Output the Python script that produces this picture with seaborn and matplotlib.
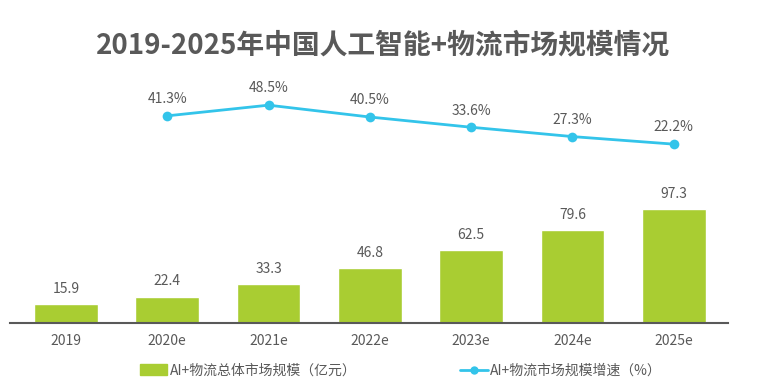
import pandas as pd
import numpy as np
import seaborn as sns
import matplotlib.pyplot as plt
from matplotlib.patches import Patch
from matplotlib.lines import Line2D

sns.set_theme(style="white")
plt.rcParams['font.family'] = ['Noto Sans CJK SC', 'DejaVu Sans']

# datos
years = ["2019", "2020e", "2021e", "2022e", "2023e", "2024e", "2025e"]
market_size = [15.9, 22.4, 33.3, 46.8, 62.5, 79.6, 97.3]
growth = [np.nan, 41.3, 48.5, 40.5, 33.6, 27.3, 22.2]

bar_name = "AI+物流总体市场规模（亿元）"
line_name = "AI+物流市场规模增速（%）"
title = "2019-2025年中国人工智能+物流市场规模情况"

bar_color = "#A9CD32"
line_color = "#33C4EA"
text_color = "#595959"

df = pd.DataFrame({"year": years, "size": market_size, "growth": growth})

fig = plt.figure(figsize=(7.66, 3.88), dpi=100)
ax = fig.add_axes([0.013, 0.1675, 0.937, 0.626])

sns.barplot(data=df, x="year", y="size", color=bar_color, width=0.63,
            saturation=1, ax=ax)
ax.set_xlim(-0.553, 6.533)
ax.set_ylim(0, 207.7)
for i, v in enumerate(df["size"]):
    ax.annotate(f"{v:.1f}", (i, v), xytext=(0, 6), textcoords="offset points",
                ha="center", va="bottom", fontsize=10, color=text_color)

ax2 = ax.twinx()
line_df = df.dropna(subset=["growth"])
sns.lineplot(x=line_df.index, y=line_df["growth"], color=line_color, lw=2,
             marker="o", markersize=7, markeredgewidth=0, ax=ax2)
ax2.set_ylim(-98.5, 65.4)
for i, v in zip(line_df.index, line_df["growth"]):
    ax2.annotate(f"{v:.1f}%", (i, v), xytext=(0, 7), textcoords="offset points",
                 ha="center", va="bottom", fontsize=10, color=text_color)

for a in (ax, ax2):
    a.set_xlabel("")
    a.set_ylabel("")
    a.set_yticks([])
    for s in ("top", "left", "right"):
        a.spines[s].set_visible(False)
ax2.spines["bottom"].set_visible(False)
ax.spines["bottom"].set_color(text_color)
ax.spines["bottom"].set_linewidth(1.5)
ax.tick_params(axis="x", length=0, pad=8, labelsize=10, labelcolor=text_color)

fig.suptitle(title, x=0.5, y=0.92, fontsize=20, fontweight="bold", color=text_color)

fig.legend(handles=[Patch(color=bar_color, label=bar_name)], loc="center left",
           bbox_to_anchor=(0.166, 0.045), frameon=False, fontsize=10,
           handlelength=2.0, handleheight=0.8, handletextpad=0.2, labelcolor=text_color)
fig.legend(handles=[Line2D([], [], color=line_color, lw=2, marker="o", markersize=6,
                           markeredgewidth=0, label=line_name)],
           loc="center left", bbox_to_anchor=(0.584, 0.045), frameon=False,
           fontsize=10, handlelength=2.0, handletextpad=0.2, labelcolor=text_color)

fig.savefig("out.png", dpi=100)
